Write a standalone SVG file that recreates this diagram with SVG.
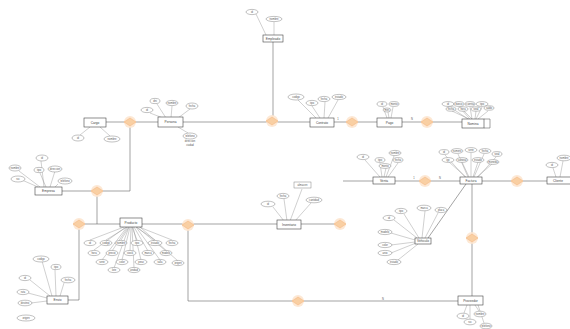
<svg xmlns="http://www.w3.org/2000/svg" width="570" height="329" viewBox="0 0 570 329">
<style>
.bg{fill:#ffffff}
.ent{fill:#ffffff;stroke:#444;stroke-width:0.6}
.att{fill:#ffffff;stroke:#777;stroke-width:0.45}
.al{stroke:#888;stroke-width:0.4;fill:none}
.con{stroke:#666;stroke-width:0.6;fill:none}
.rel{fill:#f9cfa3;stroke:#f2b27a;stroke-width:0.5}
.glow{fill:#fde6cf;opacity:0.9}
.t{font-family:"Liberation Sans",Arial,sans-serif;font-size:3.2px;fill:#444;text-anchor:middle;dominant-baseline:central}
.ts{font-family:"Liberation Sans",Arial,sans-serif;font-size:2.6px;fill:#555;text-anchor:middle;dominant-baseline:central}
</style>
<rect class="bg" x="0" y="0" width="570" height="329"/>

<g id="connectors">
<path class="con" d="M273,42 V116"/>
<path class="con" d="M106,122 H158"/>
<path class="con" d="M183,122 H310"/>
<path class="con" d="M334,122 H377"/>
<path class="con" d="M402,122 H462"/>
<path class="con" d="M484,119 H490 V128 H484"/>
<path class="con" d="M130,127 V191 H62"/>
<path class="con" d="M97,196 V224"/>
<path class="con" d="M79,224 H120"/>
<path class="con" d="M79,229 V300 H68"/>
<path class="con" d="M142,224 H277"/>
<path class="con" d="M301,224 H335"/>
<path class="con" d="M188,230 V301 H458"/>
<path class="con" d="M343,181 H373"/>
<path class="con" d="M395,181 H460"/>
<path class="con" d="M482,181 H547"/>
<path class="con" d="M472,184 V296"/>
<path class="con" d="M466,184 L428,238"/>
<text class="ts" x="338" y="119">1</text>
<text class="ts" x="412" y="119">N</text>
<text class="ts" x="414" y="178">1</text>
<text class="ts" x="440" y="178">N</text>
<text class="ts" x="383" y="299">N</text>
</g>

<g id="r1"><circle class="glow" cx="130" cy="122" r="6"/><polygon class="rel" points="124,122 130,118 136,122 130,126"/></g>
<g id="r2"><circle class="glow" cx="272" cy="121" r="6"/><polygon class="rel" points="266,121 272,117 278,121 272,125"/></g>
<g id="r3"><circle class="glow" cx="352" cy="122" r="6"/><polygon class="rel" points="346,122 352,118 358,122 352,126"/></g>
<g id="r4"><circle class="glow" cx="427" cy="122" r="6"/><polygon class="rel" points="421,122 427,118 433,122 427,126"/></g>
<g id="r5"><circle class="glow" cx="97" cy="191" r="6"/><polygon class="rel" points="91,191 97,187 103,191 97,195"/></g>
<g id="r6"><circle class="glow" cx="79" cy="224" r="6"/><polygon class="rel" points="73,224 79,220 85,224 79,228"/></g>
<g id="r7"><circle class="glow" cx="188" cy="225" r="6"/><polygon class="rel" points="182,225 188,221 194,225 188,229"/></g>
<g id="r8"><circle class="glow" cx="340" cy="224" r="6"/><polygon class="rel" points="334,224 340,220 346,224 340,228"/></g>
<g id="r9"><circle class="glow" cx="298" cy="301" r="6"/><polygon class="rel" points="292,301 298,297 304,301 298,305"/></g>
<g id="r10"><circle class="glow" cx="425" cy="181" r="6"/><polygon class="rel" points="419,181 425,177 431,181 425,185"/></g>
<g id="r11"><circle class="glow" cx="517" cy="181" r="6"/><polygon class="rel" points="511,181 517,177 523,181 517,185"/></g>
<g id="r12"><circle class="glow" cx="472" cy="238" r="6"/><polygon class="rel" points="466,238 472,234 478,238 472,242"/></g>

<g id="e1">
<path class="al" d="M256,14 L266,35 M274,22 L274,35"/>
<ellipse class="att" cx="252" cy="12" rx="6" ry="2.6"/><text class="ts" x="252" y="12">id</text>
<ellipse class="att" cx="274" cy="19" rx="8" ry="2.6"/><text class="ts" x="274" y="19">nombre</text>
<rect class="ent" x="263" y="35" width="20" height="7"/><text class="t" x="273" y="38.5">Empleado</text>
</g>

<g id="e2">
<path class="al" d="M80,135 L90,127 M110,136 L100,127"/>
<ellipse class="att" cx="78" cy="138" rx="6" ry="3"/><text class="ts" x="78" y="138">id</text>
<ellipse class="att" cx="112" cy="139" rx="8" ry="3"/><text class="ts" x="112" y="139">nombre</text>
<rect class="ent" x="84" y="118" width="22" height="9"/><text class="t" x="95" y="122.5">Cargo</text>
</g>

<g id="e3">
<path class="al" d="M150,113 L163,118 M157,104 L166,118 M172,106 L171,118 M190,109 L178,118 M188,133 L178,127"/>
<ellipse class="att" cx="147" cy="110" rx="6" ry="2.6"/><text class="ts" x="147" y="110">id</text>
<ellipse class="att" cx="155" cy="101" rx="5" ry="2.6"/><text class="ts" x="155" y="101">dni</text>
<ellipse class="att" cx="172" cy="103" rx="6" ry="2.6"/><text class="ts" x="172" y="103">nombre</text>
<ellipse class="att" cx="192" cy="106" rx="6" ry="3"/><text class="ts" x="192" y="106">fecha</text>
<ellipse class="att" cx="190" cy="136" rx="7" ry="3"/><text class="ts" x="190" y="136">telefono</text>
<text class="ts" x="190" y="141">direccion</text>
<text class="ts" x="190" y="145">ciudad</text>
<rect class="ent" x="158" y="117" width="25" height="10"/><text class="t" x="170.5" y="122">Persona</text>
</g>

<g id="e4">
<path class="al" d="M298,100 L316,118 M312,106 L320,118 M325,102 L324,118 M338,100 L328,118"/>
<ellipse class="att" cx="296" cy="97" rx="8" ry="3"/><text class="ts" x="296" y="97">codigo</text>
<ellipse class="att" cx="312" cy="103" rx="6" ry="2.6"/><text class="ts" x="312" y="103">tipo</text>
<ellipse class="att" cx="324" cy="99" rx="6" ry="2.6"/><text class="ts" x="324" y="99">fecha</text>
<ellipse class="att" cx="339" cy="97" rx="7" ry="2.6"/><text class="ts" x="339" y="97">estado</text>
<rect class="ent" x="310" y="118" width="24" height="9"/><text class="t" x="322" y="122.5">Contrato</text>
</g>

<g id="e5">
<path class="al" d="M383,107 L387,118 M393,107 L391,118 M388,112 L389,118"/>
<ellipse class="att" cx="382" cy="104" rx="5" ry="2.4"/><text class="ts" x="382" y="104">id</text>
<ellipse class="att" cx="394" cy="104" rx="5" ry="2.4"/><text class="ts" x="394" y="104">monto</text>
<ellipse class="att" cx="387" cy="110" rx="4" ry="2"/><text class="ts" x="387" y="110">mes</text>
<rect class="ent" x="377" y="118" width="25" height="9"/><text class="t" x="389.5" y="122.5">Pago</text>
</g>

<g id="e6">
<path class="al" d="M450,107 L468,119 M459,107 L470,119 M470,107 L472,119 M482,107 L476,119 M452,111 L469,119 M464,111 L472,119 M476,111 L475,119 M488,111 L478,119"/>
<ellipse class="att" cx="448" cy="104" rx="6" ry="2.4"/><text class="ts" x="448" y="104">id</text>
<ellipse class="att" cx="459" cy="104" rx="5" ry="2.4"/><text class="ts" x="459" y="104">banco</text>
<ellipse class="att" cx="470" cy="104" rx="5" ry="2.4"/><text class="ts" x="470" y="104">cuenta</text>
<ellipse class="att" cx="482" cy="104" rx="6" ry="2.4"/><text class="ts" x="482" y="104">tipo</text>
<ellipse class="att" cx="451" cy="109" rx="5" ry="2.2"/><text class="ts" x="451" y="109">fecha</text>
<ellipse class="att" cx="463" cy="109" rx="5" ry="2.2"/><text class="ts" x="463" y="109">hora</text>
<ellipse class="att" cx="476" cy="109" rx="5" ry="2.2"/><text class="ts" x="476" y="109">total</text>
<ellipse class="att" cx="489" cy="108" rx="5" ry="2.2"/><text class="ts" x="489" y="108">saldo</text>
<rect class="ent" x="462" y="119" width="22" height="9"/><text class="t" x="473" y="123.5">Nomina</text>
</g>

<g id="e7">
<path class="al" d="M41,161 L44,187 M19,171 L40,187 M40,173 L46,187 M55,171 L50,187 M22,180 L38,187 M58,184 L55,187"/>
<ellipse class="att" cx="42" cy="158" rx="6" ry="3"/><text class="ts" x="42" y="158">id</text>
<ellipse class="att" cx="15" cy="168" rx="6" ry="3"/><text class="ts" x="15" y="168">nombre</text>
<ellipse class="att" cx="39" cy="170" rx="5" ry="2.6"/><text class="ts" x="39" y="170">tipo</text>
<ellipse class="att" cx="55" cy="169" rx="7" ry="3"/><text class="ts" x="55" y="169">direccion</text>
<ellipse class="att" cx="18" cy="179" rx="7" ry="3"/><text class="ts" x="18" y="179">ruc</text>
<ellipse class="att" cx="65" cy="181" rx="7" ry="3"/><text class="ts" x="65" y="181">telefono</text>
<rect class="ent" x="35" y="187" width="27" height="8"/><text class="t" x="48.5" y="191">Empresa</text>
</g>

<g id="e8">
<path class="al" d="M90,240 L124,227 M106,240 L127,227 M121,240 L129,227 M137,240 L132,227 M155,240 L136,227 M172,240 L139,227 M94,250 L126,227 M112,251 L128,227 M130,251 L131,227 M148,251 L134,227 M166,251 L137,227 M102,260 L127,227 M122,260 L130,227 M141,260 L133,227 M160,260 L136,227 M178,261 L140,227 M114,268 L129,227 M134,268 L132,227"/>
<ellipse class="att" cx="90" cy="243" rx="6" ry="2.6"/><text class="ts" x="90" y="243">id</text>
<ellipse class="att" cx="106" cy="243" rx="6" ry="2.6"/><text class="ts" x="106" y="243">codigo</text>
<ellipse class="att" cx="121" cy="243" rx="6" ry="2.6"/><text class="ts" x="121" y="243">nombre</text>
<ellipse class="att" cx="137" cy="243" rx="6" ry="2.6"/><text class="ts" x="137" y="243">tipo</text>
<ellipse class="att" cx="155" cy="243" rx="7" ry="2.6"/><text class="ts" x="155" y="243">estado</text>
<ellipse class="att" cx="172" cy="243" rx="6" ry="2.6"/><text class="ts" x="172" y="243">fecha</text>
<ellipse class="att" cx="94" cy="253" rx="6" ry="2.6"/><text class="ts" x="94" y="253">hora</text>
<ellipse class="att" cx="112" cy="253" rx="6" ry="2.6"/><text class="ts" x="112" y="253">precio</text>
<ellipse class="att" cx="130" cy="253" rx="6" ry="2.6"/><text class="ts" x="130" y="253">stock</text>
<ellipse class="att" cx="148" cy="253" rx="6" ry="2.6"/><text class="ts" x="148" y="253">marca</text>
<ellipse class="att" cx="166" cy="253" rx="6" ry="2.6"/><text class="ts" x="166" y="253">modelo</text>
<ellipse class="att" cx="102" cy="262" rx="6" ry="2.6"/><text class="ts" x="102" y="262">serie</text>
<ellipse class="att" cx="122" cy="262" rx="6" ry="2.6"/><text class="ts" x="122" y="262">color</text>
<ellipse class="att" cx="141" cy="262" rx="6" ry="2.6"/><text class="ts" x="141" y="262">peso</text>
<ellipse class="att" cx="160" cy="262" rx="6" ry="2.6"/><text class="ts" x="160" y="262">talla</text>
<ellipse class="att" cx="178" cy="263" rx="6" ry="2.6"/><text class="ts" x="178" y="263">origen</text>
<ellipse class="att" cx="114" cy="270" rx="6" ry="2.6"/><text class="ts" x="114" y="270">lote</text>
<ellipse class="att" cx="134" cy="270" rx="6" ry="2.6"/><text class="ts" x="134" y="270">unidad</text>
<rect class="ent" x="120" y="218" width="22" height="9"/><text class="t" x="131" y="222.5">Producto</text>
</g>

<g id="e9">
<path class="al" d="M273,207 L284,221 M284,199 L287,221 M302,189 L290,221 M311,203 L295,221"/>
<rect class="att" x="294" y="182" width="17" height="6"/><text class="ts" x="302.5" y="185">almacen</text>
<ellipse class="att" cx="268" cy="204" rx="7" ry="2.8"/><text class="ts" x="268" y="204">id</text>
<ellipse class="att" cx="283" cy="196" rx="6" ry="2.6"/><text class="ts" x="283" y="196">fecha</text>
<ellipse class="att" cx="314" cy="200" rx="8" ry="2.8"/><text class="ts" x="314" y="200">cantidad</text>
<rect class="ent" x="277" y="220" width="24" height="9"/><text class="t" x="289" y="224.5">Inventario</text>
</g>

<g id="e10">
<path class="al" d="M365,160 L380,177 M380,163 L382,177 M394,156 L386,177 M398,163 L388,177 M386,168 L384,177"/>
<ellipse class="att" cx="363" cy="157" rx="6" ry="2.6"/><text class="ts" x="363" y="157">id</text>
<ellipse class="att" cx="380" cy="160" rx="5" ry="2.4"/><text class="ts" x="380" y="160">tipo</text>
<ellipse class="att" cx="395" cy="153" rx="6" ry="2.6"/><text class="ts" x="395" y="153">nombre</text>
<ellipse class="att" cx="398" cy="160" rx="5" ry="2.4"/><text class="ts" x="398" y="160">fecha</text>
<ellipse class="att" cx="385" cy="166" rx="6" ry="2.4"/><text class="ts" x="385" y="166">monto</text>
<rect class="ent" x="373" y="177" width="22" height="7"/><text class="t" x="384" y="180.5">Venta</text>
</g>

<g id="e11">
<path class="al" d="M445,155 L465,177 M458,154 L468,177 M471,153 L471,177 M484,154 L474,177 M496,157 L478,177 M449,162 L466,177 M462,162 L469,177 M478,162 L473,177 M492,164 L477,177"/>
<ellipse class="att" cx="444" cy="152" rx="5" ry="2.4"/><text class="ts" x="444" y="152">id</text>
<ellipse class="att" cx="457" cy="151" rx="6" ry="2.4"/><text class="ts" x="457" y="151">numero</text>
<ellipse class="att" cx="471" cy="150" rx="6" ry="2.4"/><text class="ts" x="471" y="150">serie</text>
<ellipse class="att" cx="485" cy="151" rx="6" ry="2.4"/><text class="ts" x="485" y="151">fecha</text>
<ellipse class="att" cx="497" cy="154" rx="5" ry="2.4"/><text class="ts" x="497" y="154">total</text>
<ellipse class="att" cx="448" cy="160" rx="6" ry="2.4"/><text class="ts" x="448" y="160">igv</text>
<ellipse class="att" cx="462" cy="160" rx="6" ry="2.4"/><text class="ts" x="462" y="160">subtotal</text>
<ellipse class="att" cx="478" cy="160" rx="6" ry="2.4"/><text class="ts" x="478" y="160">estado</text>
<ellipse class="att" cx="493" cy="162" rx="6" ry="2.4"/><text class="ts" x="493" y="162">moneda</text>
<rect class="ent" x="460" y="177" width="22" height="7"/><text class="t" x="471" y="180.5">Factura</text>
</g>

<g id="e12">
<path class="al" d="M553,168 L556,177 M563,161 L560,177"/>
<ellipse class="att" cx="552" cy="165" rx="6" ry="2.6"/><text class="ts" x="552" y="165">id</text>
<ellipse class="att" cx="564" cy="158" rx="7" ry="2.8"/><text class="ts" x="564" y="158">nombre</text>
<rect class="ent" x="547" y="177" width="24" height="7"/><text class="t" x="558" y="180.5">Cliente</text>
</g>

<g id="e13">
<path class="al" d="M394,220 L417,238 M404,214 L419,238 M425,211 L422,238 M438,213 L425,238 M391,233 L415,240 M391,245 L415,242 M391,253 L416,243 M398,260 L418,244"/>
<ellipse class="att" cx="389" cy="218" rx="6" ry="2.6"/><text class="ts" x="389" y="218">id</text>
<ellipse class="att" cx="401" cy="211" rx="6" ry="2.6"/><text class="ts" x="401" y="211">tipo</text>
<ellipse class="att" cx="424" cy="208" rx="7" ry="2.8"/><text class="ts" x="424" y="208">marca</text>
<ellipse class="att" cx="441" cy="210" rx="6" ry="2.6"/><text class="ts" x="441" y="210">placa</text>
<ellipse class="att" cx="385" cy="232" rx="7" ry="2.6"/><text class="ts" x="385" y="232">modelo</text>
<ellipse class="att" cx="385" cy="245" rx="7" ry="2.6"/><text class="ts" x="385" y="245">color</text>
<ellipse class="att" cx="385" cy="253" rx="7" ry="2.6"/><text class="ts" x="385" y="253">anio</text>
<ellipse class="att" cx="394" cy="262" rx="7" ry="2.6"/><text class="ts" x="394" y="262">estado</text>
<rect class="ent" x="415" y="238" width="16" height="6"/><text class="t" x="423" y="241">Vehiculo</text>
</g>

<g id="e14">
<path class="al" d="M42,261 L52,296 M55,270 L56,296 M30,280 L50,296 M64,283 L60,296 M28,293 L47,298 M31,303 L47,301"/>
<ellipse class="att" cx="41" cy="259" rx="8" ry="3"/><text class="ts" x="41" y="259">codigo</text>
<ellipse class="att" cx="56" cy="267" rx="5" ry="2.6"/><text class="ts" x="56" y="267">tipo</text>
<ellipse class="att" cx="25" cy="278" rx="6" ry="2.6"/><text class="ts" x="25" y="278">id</text>
<ellipse class="att" cx="68" cy="280" rx="7" ry="2.8"/><text class="ts" x="68" y="280">fecha</text>
<ellipse class="att" cx="23" cy="292" rx="6" ry="2.6"/><text class="ts" x="23" y="292">ruta</text>
<ellipse class="att" cx="25" cy="303" rx="7" ry="2.8"/><text class="ts" x="25" y="303">destino</text>
<ellipse class="att" cx="26" cy="318" rx="9" ry="3"/><text class="ts" x="26" y="318">origen</text>
<rect class="ent" x="47" y="296" width="21" height="8"/><text class="t" x="57.5" y="300">Envio</text>
</g>

<g id="e15">
<path class="al" d="M464,313 L467,305 M479,311 L475,305 M470,319 L470,305 M484,323 L478,305"/>
<ellipse class="att" cx="463" cy="316" rx="6" ry="2.8"/><text class="ts" x="463" y="316">id</text>
<ellipse class="att" cx="480" cy="314" rx="6" ry="2.8"/><text class="ts" x="480" y="314">nombre</text>
<ellipse class="att" cx="470" cy="322" rx="6" ry="2.8"/><text class="ts" x="470" y="322">ruc</text>
<ellipse class="att" cx="486" cy="326" rx="6" ry="2.8"/><text class="ts" x="486" y="326">telefono</text>
<rect class="ent" x="458" y="296" width="25" height="9"/><text class="t" x="470.5" y="300.5">Proveedor</text>
</g>
</svg>
